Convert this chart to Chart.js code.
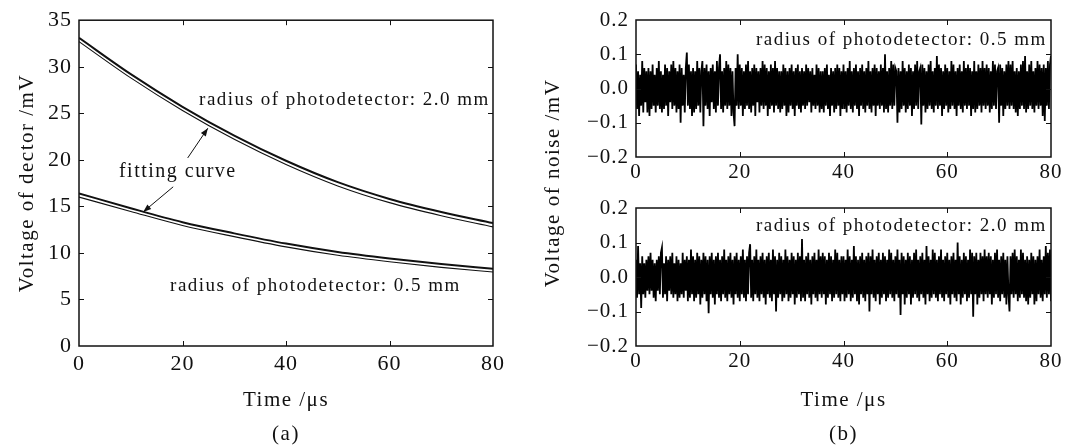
<!DOCTYPE html>
<html>
<head>
<meta charset="utf-8">
<script src="https://cdn.jsdelivr.net/npm/chart.js@4.4.1/dist/chart.umd.min.js"></script>
<style>
  body { margin: 0; background: #fff; width: 1066px; height: 448px; overflow: hidden; position: relative; }
  canvas { position: absolute; top: 0; }
</style>
</head>
<body>
<canvas id="chartA" width="520" height="448" style="left:0"></canvas>
<canvas id="chartB1" width="546" height="448" style="left:520px"></canvas>
<canvas id="chartB2" width="546" height="448" style="left:520px"></canvas>
<script>
// ---- panel (a): detector voltage, every 10 us ----
const curveTime = [0, 10, 20, 30, 40, 50, 60, 70, 80];
const signal20 = [33.1, 29.2, 25.7, 22.6, 19.9, 17.6, 15.8, 14.4, 13.2];
const fit20    = [32.7, 28.8, 25.3, 22.2, 19.5, 17.2, 15.4, 14.0, 12.8];
const signal05 = [16.4, 14.8, 13.3, 12.1, 11.0, 10.1, 9.4, 8.8, 8.3];
const fit05    = [16.0, 14.45, 12.95, 11.75, 10.65, 9.75, 9.05, 8.45, 7.95];

// ---- panel (b): noise samples, one every 0.2 us from 0 to 80 us ----
const noise05 = [
  .07,-.06,.05,-.08,.04,-.05,.08,-.07,.06,-.04,.05,-.07,.06,-.08,.05,-.06,.07,-.05,.04,-.07,
  .06,-.05,.08,-.06,.05,-.07,.04,-.06,.07,-.05,.06,-.08,.05,-.04,.07,-.06,.08,-.05,.06,-.07,
  .05,-.06,.07,-.1,.06,-.05,.04,-.07,.06,.105,-.05,.07,-.06,.05,-.08,.06,-.07,.05,-.06,.08,
  -.05,.06,-.07,.05,.08,-.11,.06,-.05,.07,-.06,.05,-.08,.06,-.04,.07,-.06,.05,-.07,.08,-.05,
  .06,.1,-.06,.05,-.07,.06,-.05,.08,-.06,.07,-.05,.06,-.08,.05,-.07,-.11,.06,-.05,.1,-.06,
  .07,-.05,.06,-.08,.05,-.06,.07,-.05,.08,-.06,.05,-.07,.06,-.05,.07,-.08,.06,-.04,.05,-.07,
  .06,-.05,.08,-.06,.07,-.05,.06,-.08,.05,-.06,.07,-.05,.06,-.07,.08,-.05,.06,-.06,.05,-.07,
  .05,-.06,.07,-.05,.06,-.08,.05,-.07,.06,-.05,.07,-.06,.05,-.08,.06,-.05,.07,-.06,.05,-.07,
  .06,-.05,.05,-.06,.07,-.05,.06,-.04,.05,-.07,.06,-.05,.04,-.06,.07,-.05,.06,-.07,.05,-.06,
  .05,-.07,.06,-.05,.07,-.06,.04,-.08,.06,-.05,.05,-.07,.06,-.06,.07,-.05,.06,-.08,.05,-.06,
  .07,-.06,.05,-.07,.06,-.05,.08,-.06,.05,-.07,.06,-.05,.07,-.06,.05,-.08,.06,-.05,.07,-.06,
  .05,-.07,.06,-.05,.08,-.06,.05,-.07,.06,-.05,.07,-.08,.06,-.05,.05,-.06,.07,-.05,.06,-.07,
  .1,-.06,.05,-.07,.06,-.05,.08,-.06,.07,-.05,.06,.05,-.1,.06,-.07,.05,-.06,.08,-.05,.06,
  -.07,.05,-.06,.07,-.05,.06,-.08,.05,-.06,.07,-.05,.08,-.06,.05,.06,-.105,.07,-.05,.06,-.07,
  .05,-.06,.07,-.05,.08,-.06,.05,-.07,.06,-.05,.095,-.06,.07,-.05,.06,-.08,.05,-.06,.07,-.05,
  .06,-.07,.05,-.06,.08,-.05,.07,-.06,.05,-.08,.06,-.05,.07,-.06,.05,-.07,.08,-.05,.06,-.06,
  .07,-.05,.06,-.08,.05,-.06,.08,-.07,.05,-.06,.07,-.05,.06,-.07,.08,-.05,.06,-.06,.07,-.05,
  .06,-.07,.05,-.06,.08,-.05,.07,-.06,.05,.06,-.1,.07,-.05,.06,-.08,.05,-.06,.07,-.05,.08,
  -.06,.07,-.05,.08,-.06,.05,-.07,.06,-.08,.05,-.06,.07,-.05,.08,-.06,.095,-.07,.05,-.06,.07,
  -.05,.08,-.06,.05,-.07,.06,-.05,.08,-.06,.07,-.05,.06,-.08,.07,-.095,.06,-.05,.08,-.06,.07,
  .095
];
const noise20 = [
  .05,-.06,.09,-.05,.04,-.09,.06,-.05,.04,-.06,.05,-.04,.06,-.05,.07,-.04,.05,-.06,.04,-.07,
  .05,-.04,.06,-.05,.07,.085,-.06,.04,-.05,.06,-.07,.05,-.04,.06,-.05,.07,-.06,.04,-.05,.06,
  -.07,.05,-.06,.04,-.05,.07,-.06,.05,-.04,.06,-.07,.05,-.06,.08,-.05,.06,-.07,.05,-.06,.07,
  -.05,.06,-.08,.05,-.06,.07,-.05,.06,-.07,.05,-.105,.06,-.05,.07,-.06,.05,-.08,.06,-.05,.07,
  -.06,.05,-.07,.06,-.05,.08,-.06,.05,-.07,.06,-.05,.07,-.06,.05,-.08,.06,-.05,.07,-.06,.05,
  -.07,.06,-.05,.08,-.06,.05,-.07,.06,-.05,.07,.095,-.06,.05,-.07,.06,-.05,.08,-.06,.05,-.07,
  .06,-.05,.07,-.06,.05,-.08,.06,-.05,.07,-.06,.05,-.07,.08,-.05,.06,-.1,.05,-.06,.07,-.05,
  .06,-.07,.05,-.06,.08,-.05,.06,-.07,.05,-.06,.07,-.05,.06,-.08,.05,-.06,.07,-.05,.06,-.07,
  .11,-.06,.05,-.07,.06,-.05,.07,-.06,.05,-.08,.06,-.05,.07,-.06,.05,-.07,.08,-.05,.06,-.06,
  .07,-.05,.06,-.08,.05,-.06,.07,-.05,.06,-.07,.05,-.06,.08,-.05,.07,-.06,.05,-.07,.06,-.05,
  .06,-.07,.05,-.06,.08,-.05,.06,-.07,.05,-.06,.09,-.05,.06,-.07,.05,-.08,.06,-.05,.07,-.06,
  .05,-.07,.06,-.05,.07,-.1,.06,-.05,.08,-.06,.05,-.07,.06,-.05,.07,-.08,.05,-.06,.07,-.05,
  .06,-.07,.05,-.06,.08,-.05,.07,-.06,.05,-.07,.06,-.05,.08,-.06,.05,-.11,.07,-.05,.06,-.08,
  .05,-.06,.07,-.05,.06,-.08,.05,-.06,.07,-.05,.08,-.06,.05,-.07,.06,-.05,.07,-.06,.05,-.08,
  .09,-.05,.06,-.07,.05,-.06,.08,-.05,.07,-.06,.05,-.07,.06,-.05,.08,-.06,.05,-.07,.06,-.05,
  .07,-.06,.05,-.08,.06,-.05,.07,-.06,.05,-.07,.1,-.05,.06,-.08,.05,-.06,.07,-.05,.06,-.07,
  .05,-.06,.08,-.05,.07,-.115,.06,-.05,.07,-.08,.05,-.06,.07,-.05,.06,-.07,.08,-.05,.06,-.06,
  .07,-.05,.06,-.08,.05,-.06,.07,-.05,.08,-.06,.05,-.07,.06,-.05,.07,-.06,.05,-.08,.06,-.05,
  -.1,.06,-.05,.07,-.06,.08,-.05,.06,-.07,.05,-.06,.08,-.05,.07,-.06,.05,-.07,.06,-.08,.05,
  -.06,.07,-.05,.06,-.08,.05,-.07,.06,-.05,.08,-.06,.05,-.07,.06,-.05,.09,-.06,.07,-.05,.08,
  -.07
];
const noiseStep = 0.2;

const SERIF = "'Liberation Serif', 'Times New Roman', serif";
const INK = '#111';

function pts(xs, ys) { return ys.map((v, i) => ({ x: xs[i], y: v })); }
const noiseTime = noise05.map((_, i) => i * noiseStep);

// ---- helpers ----
function frame(chart) {
  const { ctx, chartArea: a, scales: { x, y } } = chart;
  ctx.save();
  ctx.strokeStyle = INK;
  ctx.lineWidth = 1.5;
  ctx.strokeRect(a.left, a.top, a.right - a.left, a.bottom - a.top);
  ctx.lineWidth = 1;
  ctx.beginPath();
  x.ticks.slice(1, -1).forEach(t => {
    const px = Math.round(x.getPixelForValue(t.value)) + 0.5;
    ctx.moveTo(px, a.bottom); ctx.lineTo(px, a.bottom - 5);
    ctx.moveTo(px, a.top); ctx.lineTo(px, a.top + 5);
  });
  y.ticks.slice(1, -1).forEach(t => {
    const py = Math.round(y.getPixelForValue(t.value)) + 0.5;
    ctx.moveTo(a.left, py); ctx.lineTo(a.left + 5, py);
    ctx.moveTo(a.right, py); ctx.lineTo(a.right - 5, py);
  });
  ctx.stroke();
  ctx.restore();
}

function label(ctx, text, px, py, size, align, rotate) {
  ctx.save();
  ctx.fillStyle = INK;
  ctx.font = size + 'px ' + SERIF;
  ctx.letterSpacing = '1.5px';
  ctx.textAlign = align || 'center';
  ctx.textBaseline = 'middle';
  ctx.translate(px, py);
  if (rotate) ctx.rotate(-Math.PI / 2);
  ctx.fillText(text, 0, 0);
  ctx.restore();
}

function arrow(ctx, x1, y1, x2, y2) {
  const ang = Math.atan2(y2 - y1, x2 - x1);
  ctx.save();
  ctx.strokeStyle = INK; ctx.fillStyle = INK; ctx.lineWidth = 1;
  ctx.beginPath(); ctx.moveTo(x1, y1); ctx.lineTo(x2, y2); ctx.stroke();
  ctx.beginPath();
  ctx.moveTo(x2, y2);
  ctx.lineTo(x2 - 8 * Math.cos(ang) + 3 * Math.sin(ang), y2 - 8 * Math.sin(ang) - 3 * Math.cos(ang));
  ctx.lineTo(x2 - 8 * Math.cos(ang) - 3 * Math.sin(ang), y2 - 8 * Math.sin(ang) + 3 * Math.cos(ang));
  ctx.closePath(); ctx.fill();
  ctx.restore();
}

function scalesFor(o) {
  return {
    x: {
      type: 'linear', min: 0, max: 80,
      ticks: { stepSize: 20, color: INK, padding: o.xPad, maxRotation: 0, autoSkip: false,
               font: { family: SERIF, size: o.tickSize } },
      grid: { display: false, drawTicks: false },
      border: { display: false },
      afterFit(s) { s.height = 30; }
    },
    y: {
      min: o.yMin, max: o.yMax,
      ticks: { stepSize: o.yStep, color: INK, padding: 7, callback: o.fmt,
               font: { family: SERIF, size: o.tickSize } },
      grid: { display: false, drawTicks: false },
      border: { display: false },
      afterFit(s) { s.width = o.yWidth; }
    }
  };
}

const spacing = { id: 'spacing', beforeDraw(chart) { chart.ctx.letterSpacing = '1px'; } };

function noiseFmt(v) {
  if (Math.abs(v) < 1e-9) return '0.0';
  return v.toFixed(1).replace('-', '\u2212');
}

// ---- panel (a) ----
new Chart(document.getElementById('chartA'), {
  type: 'line',
  data: {
    datasets: [
      { data: pts(curveTime, signal20), borderColor: INK, borderWidth: 2 },
      { data: pts(curveTime, fit20), borderColor: INK, borderWidth: 1.1 },
      { data: pts(curveTime, signal05), borderColor: INK, borderWidth: 2 },
      { data: pts(curveTime, fit05), borderColor: INK, borderWidth: 1.1 }
    ]
  },
  options: {
    responsive: false, animation: false,
    elements: { point: { radius: 0 }, line: { tension: 0.4, cubicInterpolationMode: 'monotone' } },
    plugins: { legend: { display: false }, tooltip: { enabled: false } },
    layout: { padding: { left: 0, right: 27, top: 20, bottom: 72 } },
    scales: scalesFor({ yMin: 0, yMax: 35, yStep: 5, tickSize: 22, xPad: 5, yWidth: 79 })
  },
  plugins: [spacing, {
    id: 'panelA',
    afterDraw(chart) {
      const { ctx, chartArea: a, scales: { x, y } } = chart;
      frame(chart);
      label(ctx, 'radius of photodetector: 2.0 mm', x.getPixelForValue(23.2), y.getPixelForValue(26.4), 19, 'left');
      label(ctx, 'radius of photodetector: 0.5 mm', x.getPixelForValue(17.6), y.getPixelForValue(6.4), 19, 'left');
      label(ctx, 'fitting curve', x.getPixelForValue(19.1), y.getPixelForValue(18.7), 20);
      arrow(ctx, x.getPixelForValue(21.0), y.getPixelForValue(20.2), x.getPixelForValue(24.9), y.getPixelForValue(23.4));
      arrow(ctx, x.getPixelForValue(18.2), y.getPixelForValue(17.1), x.getPixelForValue(12.4), y.getPixelForValue(14.4));
      label(ctx, 'Voltage of dector /mV', 27, (a.top + a.bottom) / 2, 21, 'center', true);
      label(ctx, 'Time /\u03bcs', (a.left + a.right) / 2, 400, 21);
      label(ctx, '(a)', (a.left + a.right) / 2, 434, 21);
    }
  }]
});

// ---- panel (b), upper: 0.5 mm ----
new Chart(document.getElementById('chartB1'), {
  type: 'line',
  data: { datasets: [{ data: pts(noiseTime, noise05), borderColor: '#000', borderWidth: 1.8 }] },
  options: {
    responsive: false, animation: false,
    elements: { point: { radius: 0 }, line: { tension: 0 } },
    plugins: { legend: { display: false }, tooltip: { enabled: false } },
    layout: { padding: { left: 0, right: 15, top: 20, bottom: 261 } },
    scales: scalesFor({ yMin: -0.2, yMax: 0.2, yStep: 0.1, tickSize: 21, xPad: 3, yWidth: 116, fmt: noiseFmt })
  },
  plugins: [spacing, {
    id: 'panelB1',
    afterDraw(chart) {
      const { ctx, scales: { x, y } } = chart;
      frame(chart);
      label(ctx, 'radius of photodetector: 0.5 mm', x.getPixelForValue(79.2), y.getPixelForValue(0.142), 19, 'right');
      label(ctx, 'Voltage of noise /mV', 33, 183, 21, 'center', true);
    }
  }]
});

// ---- panel (b), lower: 2.0 mm ----
new Chart(document.getElementById('chartB2'), {
  type: 'line',
  data: { datasets: [{ data: pts(noiseTime, noise20), borderColor: '#000', borderWidth: 1.8 }] },
  options: {
    responsive: false, animation: false,
    elements: { point: { radius: 0 }, line: { tension: 0 } },
    plugins: { legend: { display: false }, tooltip: { enabled: false } },
    layout: { padding: { left: 0, right: 15, top: 208, bottom: 72 } },
    scales: scalesFor({ yMin: -0.2, yMax: 0.2, yStep: 0.1, tickSize: 21, xPad: 3, yWidth: 116, fmt: noiseFmt })
  },
  plugins: [spacing, {
    id: 'panelB2',
    afterDraw(chart) {
      const { ctx, chartArea: a, scales: { x, y } } = chart;
      frame(chart);
      label(ctx, 'radius of photodetector: 2.0 mm', x.getPixelForValue(79.2), y.getPixelForValue(0.148), 19, 'right');
      label(ctx, 'Time /\u03bcs', (a.left + a.right) / 2, 400, 21);
      label(ctx, '(b)', (a.left + a.right) / 2, 434, 21);
    }
  }]
});
</script>
</body>
</html>
